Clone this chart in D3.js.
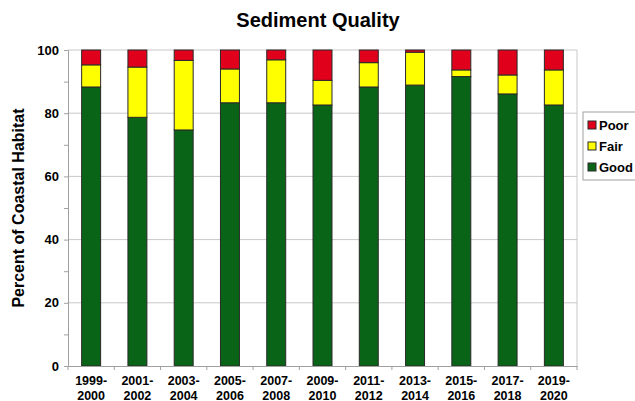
<!DOCTYPE html>
<html>
<head>
<meta charset="utf-8">
<script src="https://cdn.jsdelivr.net/npm/d3@7"></script>
<style>
  body { margin: 0; background: #fff; }
  text { font-family: "Liberation Sans", Arial, sans-serif; }
</style>
</head>
<body>
<div id="chart"></div>
<script>
var periods = ["1999-2000", "2001-2002", "2003-2004", "2005-2006", "2007-2008", "2009-2010",
               "2011-2012", "2013-2014", "2015-2016", "2017-2018", "2019-2020"];
var good = [88.3, 78.7, 74.7, 83.3, 83.3, 82.6, 88.3, 88.9, 91.6, 86.1, 82.6];
var fair = [7.0, 15.9, 22.0, 10.7, 13.6, 7.8, 7.7, 10.4, 2.1, 6.0, 11.1];
var poor = [4.7, 5.4, 3.3, 6.0, 3.1, 9.6, 4.0, 0.7, 6.3, 7.9, 6.3];
var yTicks = [0, 20, 40, 60, 80, 100];

var keys = ["Good", "Fair", "Poor"];
var colors = {Good: "#0a6418", Fair: "#ffff00", Poor: "#e0001b"};

var width = 635, height = 401;
var margin = {top: 50, right: 58, bottom: 35, left: 68};
var w = width - margin.left - margin.right,
    h = height - margin.top - margin.bottom;

var table = periods.map(function(p, i) {
  return {period: p, Good: good[i], Fair: fair[i], Poor: poor[i]};
});
var series = d3.stack().keys(keys)(table);

var svg = d3.select("#chart").append("svg")
    .attr("width", width)
    .attr("height", height);

var x = d3.scaleBand().domain(periods).range([0, w]).paddingInner(0.59).paddingOuter(0.295);
var y = d3.scaleLinear().domain([0, 100]).range([h, 0]);

var g = svg.append("g").attr("transform", "translate(" + margin.left + "," + margin.top + ")");

// gridlines
g.selectAll(".grid")
  .data(yTicks.filter(function(d){ return d > 0; }))
  .enter().append("line")
    .attr("x1", 0).attr("x2", w)
    .attr("y1", function(d){ return y(d); })
    .attr("y2", function(d){ return y(d); })
    .attr("stroke", "#c8c8c8").attr("stroke-width", 1);

// right border
g.append("line").attr("x1", w).attr("x2", w).attr("y1", 0).attr("y2", h)
  .attr("stroke", "#c8c8c8");

// bars
g.selectAll(".layer")
  .data(series)
  .enter().append("g")
    .attr("fill", function(d){ return colors[d.key]; })
  .selectAll("rect")
  .data(function(d){ return d; })
  .enter().append("rect")
    .attr("x", function(d){ return x(d.data.period); })
    .attr("y", function(d){ return y(d[1]); })
    .attr("width", x.bandwidth())
    .attr("height", function(d){ return y(d[0]) - y(d[1]); })
    .attr("stroke", "#2a2a2a").attr("stroke-width", 1);

// y axis
var yAxis = d3.axisLeft(y).tickValues(d3.range(0, 101, 10)).tickSize(4).tickFormat(function(d){ return d % 20 === 0 ? d : ""; });
var ya = g.append("g").call(yAxis);
ya.select(".domain").attr("stroke", "#a0a0a0");
ya.selectAll(".tick line").attr("stroke", "#a0a0a0");
ya.selectAll("text").attr("font-size", 13).attr("font-weight", "bold").attr("fill", "#000").attr("dx", "-2");

// x axis
var xa = g.append("g").attr("transform", "translate(0," + h + ")")
  .call(d3.axisBottom(x).tickSize(0).tickFormat(""));
xa.select(".domain").attr("stroke", "#a0a0a0");
// ticks between categories
g.selectAll(".xtick")
  .data(d3.range(periods.length + 1))
  .enter().append("line")
    .attr("x1", function(i){ return i * w / periods.length; })
    .attr("x2", function(i){ return i * w / periods.length; })
    .attr("y1", h).attr("y2", h + 4)
    .attr("stroke", "#a0a0a0");

var labels = g.selectAll(".xlab")
  .data(periods)
  .enter().append("text")
    .attr("x", function(d){ return x(d) + x.bandwidth() / 2; })
    .attr("y", h + 19)
    .attr("text-anchor", "middle")
    .attr("font-size", 12.5).attr("font-weight", "bold");
labels.append("tspan").attr("x", function(d){ return x(d) + x.bandwidth() / 2; })
  .text(function(d){ return d.split("-")[0] + "-"; });
labels.append("tspan").attr("x", function(d){ return x(d) + x.bandwidth() / 2; })
  .attr("dy", 14.5).text(function(d){ return d.split("-")[1]; });

// title
svg.append("text")
  .attr("x", 318).attr("y", 27)
  .attr("text-anchor", "middle")
  .attr("font-size", 20).attr("font-weight", "bold")
  .text("Sediment Quality");

// y label
svg.append("text")
  .attr("transform", "translate(24," + (margin.top + h / 2) + ") rotate(-90)")
  .attr("text-anchor", "middle")
  .attr("font-size", 16).attr("font-weight", "bold")
  .text("Percent of Coastal Habitat");

// legend
var leg = svg.append("g").attr("transform", "translate(583,112)");
leg.append("rect").attr("width", 60).attr("height", 68)
  .attr("fill", "#fff").attr("stroke", "#a0a0a0");
var items = leg.selectAll(".item")
  .data(keys.slice().reverse())
  .enter().append("g")
    .attr("transform", function(d, i){ return "translate(5," + (13 + i * 21) + ")"; });
items.append("rect").attr("x", 0).attr("y", -4).attr("width", 8).attr("height", 8)
  .attr("fill", function(d){ return colors[d]; }).attr("stroke", "#2a2a2a");
items.append("text").attr("x", 11).attr("y", 5)
  .attr("font-size", 13).attr("font-weight", "bold")
  .text(function(d){ return d; });
</script>
</body>
</html>
